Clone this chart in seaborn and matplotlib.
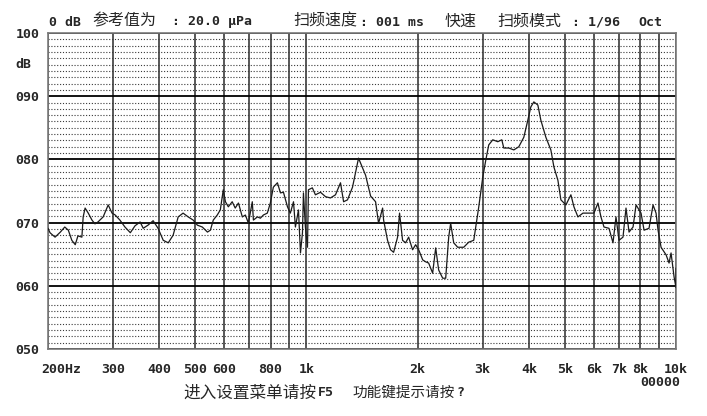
import numpy as np
import pandas as pd
import matplotlib
matplotlib.use("Agg")
import matplotlib.pyplot as plt
import matplotlib.ticker as mticker
import matplotlib.transforms as mtransforms
import seaborn as sns

# sweep: frequency (Hz) and level (dB)
freq_hz = [200, 202.5, 209, 216, 222, 227, 232, 237, 241, 247, 249, 252, 257, 263, 268, 273,
           282, 291, 298, 304, 313, 323, 334, 344, 355, 362, 373, 385, 397, 410, 423, 436,
           450, 464, 479, 494, 507, 523, 540, 550, 560, 574, 585, 596, 604, 615, 630, 642,
           655, 671, 684, 697, 714, 719, 737, 751, 765, 784, 799, 814, 835, 851, 867, 889,
           905, 923, 934, 952, 964, 976, 982, 994, 1007, 1013, 1038, 1058, 1092, 1127, 1162,
           1199, 1237, 1261, 1292, 1333, 1384, 1446, 1492, 1539, 1568, 1608, 1618, 1658,
           1690, 1722, 1765, 1787, 1821, 1856, 1891, 1938, 1975, 2013, 2064, 2102, 2142,
           2196, 2238, 2280, 2338, 2382, 2427, 2457, 2504, 2567, 2665, 2749, 2837, 2872,
           2927, 3001, 3058, 3115, 3194, 3295, 3378, 3421, 3529, 3641, 3756, 3875, 3973,
           4048, 4125, 4229, 4309, 4446, 4586, 4674, 4792, 4882, 5037, 5196, 5295, 5428,
           5601, 5778, 5998, 6150, 6266, 6385, 6587, 6754, 6881, 7011, 7188, 7324, 7463,
           7652, 7797, 8043, 8196, 8453, 8668, 8831, 8942, 9111, 9400, 9577, 9697, 9881,
           10000, 10000]
level_db = [69.1, 68.4, 67.7, 68.5, 69.3, 68.8, 67.2, 66.5, 67.9, 67.7, 70.9, 72.3, 71.5, 70.4,
            69.8, 70.1, 70.9, 72.8, 71.5, 71.2, 70.4, 69.3, 68.4, 69.5, 70.1, 69.1, 69.6, 70.3,
            69.1, 67.2, 66.8, 68.0, 70.9, 71.5, 70.9, 70.4, 69.6, 69.3, 68.5, 68.8, 70.4, 71.2,
            72.0, 75.2, 73.3, 72.5, 73.3, 72.3, 73.1, 70.9, 71.2, 69.9, 73.3, 70.4, 70.9, 70.7,
            71.2, 71.5, 73.1, 75.6, 76.3, 74.7, 74.8, 72.5, 71.5, 73.3, 69.3, 72.0, 65.2, 68.4,
            74.7, 69.3, 66.1, 75.2, 75.5, 74.4, 74.8, 74.1, 73.9, 74.4, 76.3, 73.3, 73.6, 75.6,
            80.2, 77.5, 74.2, 73.3, 69.9, 72.3, 70.4, 67.2, 65.7, 65.3, 67.7, 71.5, 67.2, 66.8,
            67.7, 65.7, 66.5, 65.7, 64.1, 63.8, 63.6, 62.0, 66.0, 62.5, 61.2, 61.2, 67.7, 69.9,
            66.8, 66.1, 66.1, 66.9, 67.2, 69.3, 72.5, 77.2, 79.9, 82.3, 83.1, 82.8, 83.1, 81.8,
            81.8, 81.5, 82.0, 83.5, 86.2, 88.3, 89.1, 88.6, 86.2, 83.5, 81.5, 78.8, 76.7, 73.6,
            72.8, 74.4, 72.5, 70.9, 71.5, 71.5, 71.5, 73.1, 70.9, 69.3, 69.1, 66.8, 70.9, 67.2,
            67.7, 72.3, 68.5, 69.3, 72.8, 71.5, 68.8, 69.1, 72.8, 71.5, 68.8, 66.1, 64.9, 63.6,
            65.2, 61.4, 59.7, 62.8]

grid_freqs = [200, 300, 400, 500, 600, 700, 800, 900,
              1000, 2000, 3000, 4000, 5000, 6000, 7000, 8000, 9000, 10000]
grid_labels = ["200Hz", "300", "400", "500", "600", "", "800", "",
               "1k", "2k", "3k", "4k", "5k", "6k", "7k", "8k", "", "10k"]
level_ticks = [50, 60, 70, 80, 90, 100]
level_labels = ["050", "060", "070", "080", "090", "100"]

MONO = "DejaVu Sans Mono"
CJK = "Noto Sans CJK SC"
W, H = 707, 416

df = pd.DataFrame({"freq": freq_hz, "db": level_db})

sns.set_style("white")
plt.rcParams["font.family"] = [MONO, CJK]

fig = plt.figure(figsize=(7.07, 4.16), dpi=100)
ax = fig.add_axes([48 / W, 1 - 349 / H, 628 / W, 316 / H])

sns.lineplot(data=df, x="freq", y="db", sort=False, estimator=None,
             color="#1a1a1a", linewidth=0.9, ax=ax, zorder=5)

ax.set_xscale("log")
ax.set_xlim(200, 10000)
ax.set_ylim(50, 100)

ax.xaxis.set_major_locator(mticker.FixedLocator(grid_freqs))
ax.xaxis.set_major_formatter(mticker.FixedFormatter(grid_labels))
ax.xaxis.set_minor_locator(mticker.NullLocator())
ax.set_yticks(level_ticks)
ax.set_yticklabels(level_labels)
ax.yaxis.set_minor_locator(mticker.MultipleLocator(1))

ax.grid(axis="x", which="major", color="#4a4a4a", linewidth=1.3)
ax.grid(axis="y", which="major", color="black", linewidth=1.3)
ax.grid(axis="y", which="minor", color="#3a3a3a", linewidth=0.8, linestyle=(0, (1, 1.6)))
ax.set_axisbelow(True)

ax.tick_params(axis="both", which="both", length=0)
ax.tick_params(axis="x", pad=10)
ax.tick_params(axis="y", pad=6)
for lab in ax.get_xticklabels() + ax.get_yticklabels():
    lab.set_fontfamily(MONO)
    lab.set_fontweight("bold")
    lab.set_fontsize(9.5)
first = ax.get_xticklabels()[0]
first.set_horizontalalignment("left")
first.set_transform(first.get_transform() +
                    mtransforms.ScaledTranslation(-7 / 100, 0, fig.dpi_scale_trans))

for s in ax.spines.values():
    s.set_color("#7a7a7a")
    s.set_linewidth(1.2)

ax.set_xlabel("")
ax.set_ylabel("")

ax.text(-33 / 628, 95, "dB", transform=ax.get_yaxis_transform(), ha="left", va="center",
        fontfamily=MONO, fontweight="bold", fontsize=9.5)


def put(xpx, ypx, txt, cjk=False, size=None):
    if cjk:
        fig.text(xpx / W, 1 - ypx / H, txt, ha="left", va="center",
                 fontfamily=CJK, fontsize=size or 11.5)
    else:
        fig.text(xpx / W, 1 - ypx / H, txt, ha="left", va="center",
                 fontfamily=MONO, fontweight="bold", fontsize=size or 9.5)


# header line
put(49, 22, "0 dB")
put(92, 21, "参考值为", cjk=True)
put(172, 22, ": 20.0 μPa")
put(293, 21, "扫频速度", cjk=True)
put(360, 22, ": 001 ms")
put(445, 21, "快速", cjk=True)
put(497, 21, "扫频模式", cjk=True)
put(572, 22, ": 1/96")
put(638, 22, "Oct")

# footer
put(640, 382, "00000")
put(183, 393, "进入设置菜单请按", cjk=True, size=12)
put(318, 393, "F5")
put(352, 393, "功能键提示请按", cjk=True, size=10.5)
put(456, 393, "?")

fig.savefig("out.png", dpi=100)
